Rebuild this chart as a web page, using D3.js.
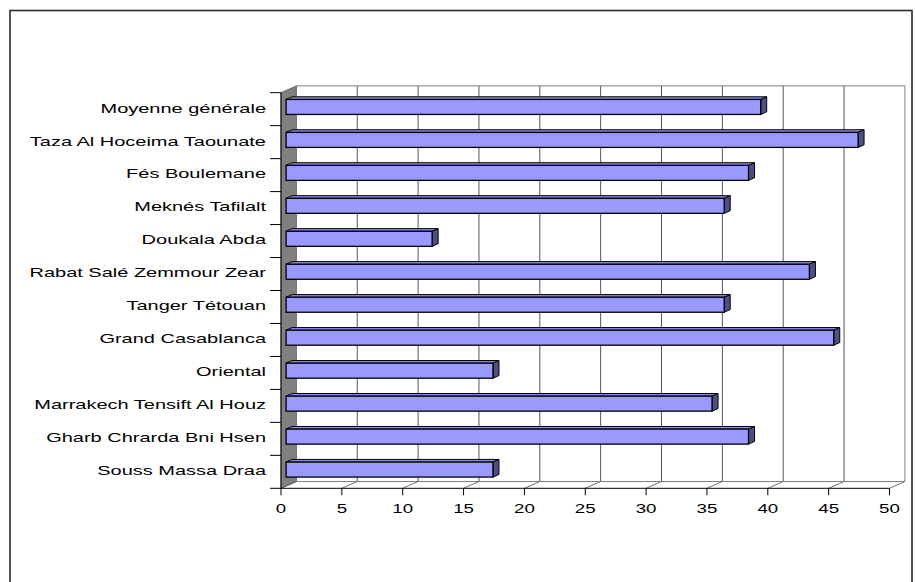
<!DOCTYPE html>
<html><head><meta charset="utf-8">
<script src="https://cdn.jsdelivr.net/npm/d3@7/dist/d3.min.js"></script>
<style>body{margin:0;background:#fff}svg{display:block}text{font-family:Arial,"Liberation Sans",sans-serif;fill:#000}</style>
</head><body><svg id="c" width="915" height="582"></svg>
<script>
const categories = ["Moyenne générale","Taza Al Hoceima Taounate","Fés Boulemane","Meknés Tafilalt","Doukala Abda","Rabat Salé Zemmour Zear","Tanger Tétouan","Grand Casablanca","Oriental","Marrakech Tensift Al Houz","Gharb Chrarda Bni Hsen","Souss Massa Draa"];
const values = [39,47,38,36,12,43,36,45,17,35,38,17];
const xTicks = [0,5,10,15,20,25,30,35,40,45,50];

const svg = d3.select("#c");
const L = 281, R = 889.5, T = 92.7, B = 488.3;
const D = {x:15.4, y:-6.8};
const x = d3.scaleLinear().domain([0,50]).range([L,R]);
const y = d3.scaleBand().domain(categories).range([T,B]).padding(0);

// outer frame
svg.append("rect").attr("x",10).attr("y",10.5).attr("width",902).attr("height",590)
  .attr("fill","none").attr("stroke","#2a2a2a").attr("stroke-width",1.6);

// back wall gridlines
const g = svg.append("g");
g.selectAll("line.grid").data(xTicks.filter(d=>d>0)).join("line")
  .attr("x1",d=>x(d)+D.x).attr("x2",d=>x(d)+D.x)
  .attr("y1",B+D.y).attr("y2",T+D.y)
  .attr("stroke",d=>d===50?"#808080":"#555").attr("stroke-width",1);
g.append("line").attr("x1",x(0)+D.x).attr("x2",x(50)+D.x).attr("y1",T+D.y).attr("y2",T+D.y)
  .attr("stroke","#808080");
g.append("line").attr("x1",x(0)+D.x).attr("x2",x(50)+D.x).attr("y1",B+D.y).attr("y2",B+D.y)
  .attr("stroke","#808080");
g.selectAll("line.diag").data(xTicks).join("line")
  .attr("x1",d=>x(d)).attr("y1",B).attr("x2",d=>x(d)+D.x).attr("y2",B+D.y)
  .attr("stroke","#707070");

// left wall
g.append("polygon")
  .attr("points",[[L,T],[L+D.x,T+D.y],[L+D.x,B+D.y],[L,B]].map(p=>p.join(",")).join(" "))
  .attr("fill","#808080").attr("stroke","#555").attr("stroke-width",0.8);

// bars
const bf = {x:D.x*0.33, y:D.y*0.33};
const bd = {x:D.x*0.39, y:D.y*0.39};
const bh = 15;
const bars = svg.append("g").selectAll("g").data(categories.map((c,i)=>({c,v:values[i]}))).join("g");
bars.each(function(d){
  const s = d3.select(this);
  const yc = y(d.c)+y.bandwidth()/2 + bf.y;
  const xl = x(0)+bf.x, xr = x(d.v)+bf.x, yt = yc-bh/2, yb = yc+bh/2;
  s.append("polygon").attr("points",[[xl,yt],[xr,yt],[xr+bd.x,yt+bd.y],[xl+bd.x,yt+bd.y]].map(p=>p.join(",")).join(" "))
    .attr("fill","#8c8cf0").attr("stroke","#000").attr("stroke-width",1).attr("stroke-linejoin","round");
  s.append("polygon").attr("points",[[xr,yt],[xr+bd.x,yt+bd.y],[xr+bd.x,yb+bd.y],[xr,yb]].map(p=>p.join(",")).join(" "))
    .attr("fill","#4f4f88").attr("stroke","#000").attr("stroke-width",1).attr("stroke-linejoin","round");
  s.append("rect").attr("x",xl).attr("y",yt).attr("width",xr-xl).attr("height",bh)
    .attr("fill","#9999ff").attr("stroke","#000").attr("stroke-width",1.3);
});

// front axes
svg.append("line").attr("x1",L).attr("x2",R).attr("y1",B).attr("y2",B).attr("stroke","#000");
svg.selectAll("line.xt").data(xTicks).join("line")
  .attr("x1",d=>x(d)).attr("x2",d=>x(d)).attr("y1",B).attr("y2",B+7).attr("stroke","#000");
svg.selectAll("text.xl").data(xTicks).join("text")
  .attr("transform",d=>`translate(${x(d)},513) scale(1.44,1)`)
  .attr("text-anchor","middle").attr("font-size",13).text(d=>d);

svg.append("line").attr("x1",L).attr("x2",L).attr("y1",T).attr("y2",B).attr("stroke","#000");
const bounds = categories.map(c=>y(c)).concat([B]);
svg.selectAll("line.yt").data(bounds).join("line")
  .attr("x1",L-11).attr("x2",L).attr("y1",d=>d).attr("y2",d=>d).attr("stroke","#000");
svg.selectAll("text.yl").data(categories).join("text")
  .attr("transform",c=>`translate(266,${y(c)+y.bandwidth()/2-1}) scale(1.48,1)`)
  .attr("text-anchor","end").attr("dominant-baseline","central").attr("font-size",13.5).text(c=>c);
</script></body></html>
